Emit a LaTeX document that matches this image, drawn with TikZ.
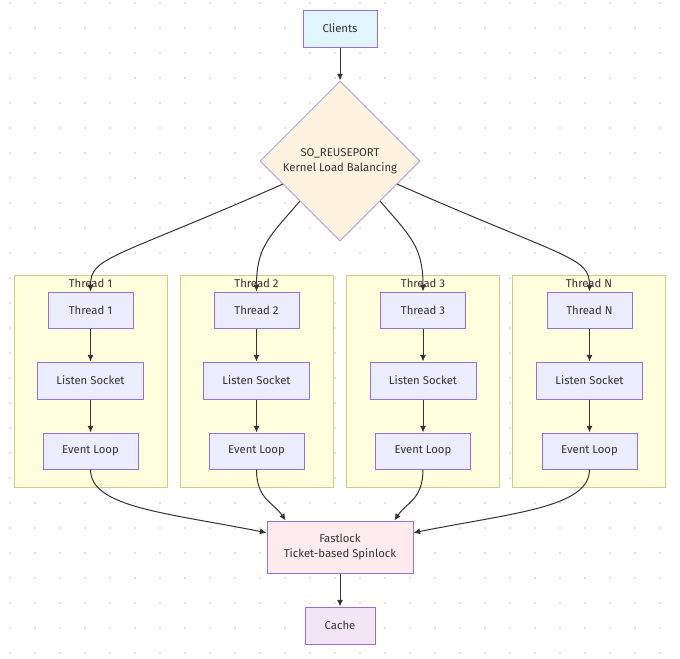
\documentclass[tikz,border=0pt]{standalone}
\usepackage{fontspec}
\setmainfont{Fira Sans}
\usetikzlibrary{shapes.geometric,arrows.meta}
\definecolor{edgegray}{HTML}{333333}
\definecolor{dotgray}{HTML}{D9D9D9}
\definecolor{nodefill}{HTML}{ECECFF}
\definecolor{nodeline}{HTML}{9370DB}
\definecolor{clientfill}{HTML}{E1F5FE}
\definecolor{balfill}{HTML}{FFF3E0}
\definecolor{balline}{HTML}{BCA8D6}
\definecolor{lockfill}{HTML}{FFEBEE}
\definecolor{cachefill}{HTML}{F3E5F5}
\definecolor{clusterfill}{HTML}{FFFFDE}
\definecolor{clusterline}{HTML}{CDCD85}
\tikzset{
  box/.style={draw=nodeline, fill=nodefill, line width=0.75pt, text=edgegray,
    font=\fontsize{8.5}{11.5}\selectfont, align=center, inner sep=0pt},
  threadbox/.style={box, minimum width=63.75pt, minimum height=27pt},
  sockbox/.style={box, minimum width=79.5pt, minimum height=27.75pt},
  loopbox/.style={box, minimum width=71.25pt, minimum height=27pt},
  cluster/.style={draw=clusterline, fill=clusterfill, line width=0.75pt,
    minimum width=114.75pt, minimum height=159pt, inner sep=0pt},
  title/.style={text=edgegray, font=\fontsize{8.5}{10}\selectfont, inner sep=0pt},
  flow/.style={draw=edgegray, line width=0.75pt, -{Latex[length=5pt,width=4.5pt]}},
}
\begin{document}
\begin{tikzpicture}[x=0.75pt,y=-0.75pt]
\useasboundingbox (0,0) rectangle (680,658);
%%% dotted background
\foreach \i in {0,...,26}{
  \foreach \j in {0,...,26}{
    \fill[dotgray] (10+25*\i, 3+25*\j) circle (0.8pt);
  }
}
%%% clients and the kernel balancer
\node[box, fill=clientfill, minimum width=55.5pt, minimum height=27.75pt] (clients) at (340,28.5) {Clients};
\node[box, diamond, aspect=1, fill=balfill, draw=balline, minimum width=120pt, minimum height=120pt] (bal) at (340,161) {SO\_REUSEPORT\\Kernel Load Balancing};
%%% the four thread groups
\node[cluster] (grp1) at (90.5,381) {};
\node[cluster] (grp2) at (256.5,381) {};
\node[cluster] (grp3) at (423,381) {};
\node[cluster] (grpN) at (589,381) {};
\node[title] (grp1t) at (90.5,283) {Thread 1};
\node[title] (grp2t) at (256.5,283) {Thread 2};
\node[title] (grp3t) at (423,283) {Thread 3};
\node[title] (grpNt) at (589,283) {Thread N};
% thread 1
\node[threadbox] (t1) at (90.5,310) {Thread 1};
\node[sockbox] (ls1) at (90.5,380.5) {Listen Socket};
\node[loopbox] (el1) at (90.5,451) {Event Loop};
% thread 2
\node[threadbox] (t2) at (256.5,310) {Thread 2};
\node[sockbox] (ls2) at (256.5,380.5) {Listen Socket};
\node[loopbox] (el2) at (256.5,451) {Event Loop};
% thread 3
\node[threadbox] (t3) at (423,310) {Thread 3};
\node[sockbox] (ls3) at (423,380.5) {Listen Socket};
\node[loopbox] (el3) at (423,451) {Event Loop};
% thread N
\node[threadbox] (tN) at (589.5,310) {Thread N};
\node[sockbox] (lsN) at (589.5,380.5) {Listen Socket};
\node[loopbox] (elN) at (589.5,451) {Event Loop};
%%% lock and cache
\node[box, fill=lockfill, minimum width=109.5pt, minimum height=39pt] (lock) at (340,547) {Fastlock\\Ticket-based Spinlock};
\node[box, fill=cachefill, minimum width=52.5pt, minimum height=27.75pt] (cache) at (340,625.5) {Cache};
%%% connectors
\draw[flow] (clients) -- (bal);
\draw[flow] (bal.202) .. controls +(-170,75) and +(0,-35) .. (t1.north);
\draw[flow] (bal.south west) .. controls +(-30,35) and +(0,-45) .. (t2.north);
\draw[flow] (bal.south east) .. controls +(30,35) and +(0,-45) .. (t3.north);
\draw[flow] (bal.-22) .. controls +(170,75) and +(0,-35) .. (tN.north);
\draw[flow] (t1) -- (ls1);
\draw[flow] (ls1) -- (el1);
\draw[flow] (t2) -- (ls2);
\draw[flow] (ls2) -- (el2);
\draw[flow] (t3) -- (ls3);
\draw[flow] (ls3) -- (el3);
\draw[flow] (tN) -- (lsN);
\draw[flow] (lsN) -- (elN);
\draw[flow] (el1.south) .. controls +(0,38) and +(-100,-20) .. (lock.169);
\draw[flow] (el2.south) .. controls +(0,30) and +(-12,-18) .. (lock.154);
\draw[flow] (el3.south) .. controls +(0,30) and +(12,-18) .. (lock.26);
\draw[flow] (elN.south) .. controls +(0,38) and +(100,-20) .. (lock.11);
\draw[flow] (lock) -- (cache);
\end{tikzpicture}
\end{document}
